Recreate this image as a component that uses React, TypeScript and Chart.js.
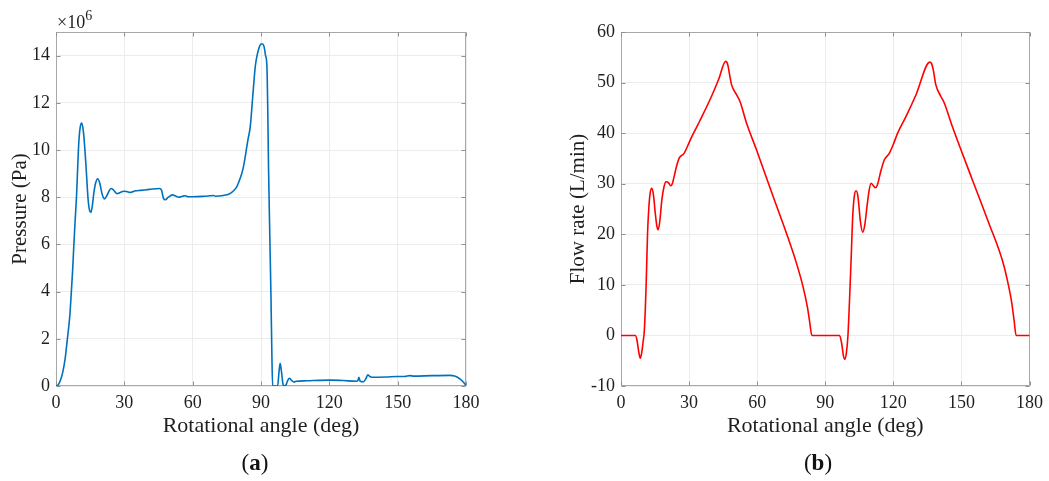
import React, { useEffect, useRef } from "react";
import { Chart, registerables } from "chart.js";

Chart.register(...registerables);

// ---- Data (a): pressure vs rotational angle (pressure in units of 10^6 Pa) ----
const angleA: number[] = [
  0, 1, 2, 3, 4, 5, 6, 6.7, 7.3, 7.8, 8.4, 9.0, 9.5, 10.0, 10.6, 11.3, 12.0, 12.9, 13.5, 14.1,
  14.7, 15.3, 15.9, 16.6, 17.4, 18.3, 19.2, 20.2, 21.3, 22.5, 23.5, 24.2, 25.3, 26.8, 28.2, 29.7,
  31, 32.6, 35, 37.1, 41, 45.5, 46.3, 47.2, 48.0, 49.3, 51.1, 52.5, 53.9, 55.5, 56.8, 58, 60, 65,
  69.2, 70, 75.1, 76.5, 77.7, 79.4, 80.9, 82.1, 83.1, 84.2, 85.3, 86.4, 87.5, 88.5, 89.5, 90.4,
  91.3, 92.0, 92.6, 93.0, 93.3, 93.9, 94.4, 94.8, 95.1, 97.3, 97.9, 98.4, 99.0, 99.6, 99.9, 101.0,
  101.8, 102.5, 103.3, 104.3, 105.5, 110, 120.4, 126, 132, 132.6, 133, 133.5, 135, 136, 136.9,
  137.8, 138.7, 145, 149.6, 153, 155.4, 157, 165, 173, 175, 176.6, 178.5, 180,
];
const pressureA: number[] = [
  0, 0.05, 0.25, 0.6, 1.15, 2.0, 2.9, 3.93, 4.9, 5.9, 7.0, 8.03, 9.2, 10.3, 10.95, 11.14, 10.8,
  9.73, 8.8, 7.9, 7.45, 7.35, 7.6, 8.17, 8.6, 8.78, 8.6, 8.15, 7.93, 8.1, 8.3, 8.37, 8.3, 8.15,
  8.2, 8.25, 8.24, 8.2, 8.27, 8.29, 8.33, 8.37, 8.3, 7.95, 7.89, 8.0, 8.1, 8.05, 8.0, 8.04, 8.06,
  8.02, 8.02, 8.04, 8.07, 8.04, 8.1, 8.16, 8.25, 8.45, 8.81, 9.2, 9.73, 10.4, 11.0, 12.3, 13.55,
  14.1, 14.42, 14.5, 14.4, 14.0, 13.55, 11.5, 9.3, 6.2, 3.65, 1.2, 0, 0, 0.6, 0.96, 0.6, 0.1, 0,
  0.05, 0.25, 0.33, 0.25, 0.17, 0.2, 0.22, 0.25, 0.23, 0.2, 0.25, 0.37, 0.2, 0.18, 0.3, 0.47, 0.4,
  0.37, 0.38, 0.4, 0.4, 0.44, 0.42, 0.44, 0.45, 0.42, 0.35, 0.2, 0.02,
];

// ---- Data (b): flow rate vs rotational angle (L/min) ----
const angleB: number[] = [
  0, 6.3, 7.0, 7.8, 8.5, 9.2, 9.8, 10.2, 10.7, 11.1, 11.7, 12.3, 12.9, 13.6, 14.3, 15.1, 15.8,
  16.4, 17.1, 18.0, 19.0, 19.9, 20.9, 21.9, 22.6, 23.4, 24.5, 25.7, 27.8, 29.5, 31.2, 34.8, 39.9,
  43, 46.1, 46.8, 47.2, 48, 48.7, 50.9, 52.4, 55.3, 59.7, 67.0, 72.9, 77.3, 80.2, 82.1, 83.1, 84.1,
  96.3, 97.2, 98.0, 98.6, 99.3, 100.0, 100.7, 101.4, 102.1, 102.8, 103.6, 104.4, 105.5, 106.5,
  107.4, 108.4, 109.3, 110.2, 111.2, 112.1, 113.0, 114.5, 116.0, 118.2, 120, 121.9, 125.6, 130,
  136.1, 136.8, 137.6, 138.7, 140.9, 142.4, 146.0, 154.8, 162.1, 168.0, 170.2, 172.1, 173.2, 174.1,
  180,
];
const flowB: number[] = [
  0, 0, -0.8, -3.2, -4.5, -3.2, -1.0, 0.43, 5, 10.3, 20.2, 25.5, 28.3, 29.1, 27.8, 24.2, 21.6,
  20.9, 22.6, 26.8, 29.5, 30.4, 30.2, 29.6, 30.0, 31.4, 33.5, 35.1, 36.0, 37.6, 39.3, 42.5, 47.3,
  50.6, 54.2, 53.9, 53.2, 51.2, 49.6, 47.6, 46.3, 42.0, 36.7, 27.5, 20.2, 14.3, 9.65, 5.7, 2.8, 0,
  0, -1.5, -4, -4.72, -3.5, 0, 7.0, 15, 23.5, 27.5, 28.6, 27.5, 22.5, 20.4, 21.8, 25.5, 28.6,
  30.1, 29.6, 29.2, 29.8, 32.5, 34.7, 36.0, 37.8, 40.0, 43.3, 47.6, 54.05, 53.8, 52.5, 49.6, 47.3,
  46.0, 41.3, 30.8, 22.2, 14.9, 11.0, 6.7, 3, 0, 0,
];

const xTicks: number[] = [0, 30, 60, 90, 120, 150, 180];
const yTicksA: number[] = [0, 2, 4, 6, 8, 10, 12, 14];
const yTicksB: number[] = [-10, 0, 10, 20, 30, 40, 50, 60];

const TEXT = "#1f1f1f";
const SERIF = "'Liberation Serif', 'Times New Roman', serif";

const boxPlugin = {
  id: "matlabBox",
  beforeDatasetsDraw(chart: any) {
    const { ctx, chartArea: a, scales } = chart;
    ctx.save();
    ctx.strokeStyle = "#a8a8a8";
    ctx.lineWidth = 1;
    const L = Math.round(a.left) + 0.5;
    const R = Math.round(a.right) - 0.5;
    const T = Math.round(a.top) + 0.5;
    const B = Math.round(a.bottom) - 0.5;
    ctx.strokeRect(L, T, R - L, B - T);
    const tl = 4;
    ctx.strokeStyle = "#909090";
    ctx.beginPath();
    scales.x.ticks.forEach((t: any) => {
      const px = Math.round(scales.x.getPixelForValue(t.value)) + 0.5;
      ctx.moveTo(px, B);
      ctx.lineTo(px, B - tl);
      ctx.moveTo(px, T);
      ctx.lineTo(px, T + tl);
    });
    scales.y.ticks.forEach((t: any) => {
      const py = Math.round(scales.y.getPixelForValue(t.value)) + 0.5;
      ctx.moveTo(L, py);
      ctx.lineTo(L + tl, py);
      ctx.moveTo(R, py);
      ctx.lineTo(R - tl, py);
    });
    ctx.stroke();
    ctx.restore();
  },
};

function makeConfig(
  xs: number[],
  ys: number[],
  color: string,
  yMin: number,
  yMax: number,
  yTicks: number[],
  yTitle: string,
  yAxisWidth: number,
  yTitlePad: number,
  padRight: number
): any {
  const data = xs.map((x, i) => ({ x, y: ys[i] }));
  return {
    type: "line",
    data: {
      datasets: [
        {
          data,
          borderColor: color,
          borderWidth: 1.6,
          pointRadius: 0,
          fill: false,
          cubicInterpolationMode: "monotone",
        },
      ],
    },
    options: {
      responsive: false,
      maintainAspectRatio: false,
      animation: false,
      layout: { padding: { top: 32, right: padRight, bottom: 35, left: 0 } },
      plugins: { legend: { display: false }, tooltip: { enabled: false } },
      scales: {
        x: {
          type: "linear",
          min: 0,
          max: 180,
          afterBuildTicks: (s: any) => {
            s.ticks = xTicks.map((v) => ({ value: v }));
          },
          afterFit: (s: any) => {
            s.height = 60;
          },
          grid: { color: "#ececec", drawTicks: false },
          border: { display: false },
          ticks: {
            color: TEXT,
            padding: 6,
            maxRotation: 0,
            font: { family: SERIF, size: 18 },
          },
          title: {
            display: true,
            text: "Rotational angle (deg)",
            color: TEXT,
            font: { family: SERIF, size: 22 },
            padding: { top: 0, bottom: 7 },
          },
        },
        y: {
          type: "linear",
          min: yMin,
          max: yMax,
          afterBuildTicks: (s: any) => {
            s.ticks = yTicks.map((v) => ({ value: v }));
          },
          afterFit: (s: any) => {
            s.width = yAxisWidth;
          },
          grid: { color: "#ececec", drawTicks: false },
          border: { display: false },
          ticks: {
            color: TEXT,
            padding: 6,
            font: { family: SERIF, size: 18 },
          },
          title: {
            display: true,
            text: yTitle,
            color: TEXT,
            font: { family: SERIF, size: 21 },
            padding: { top: yTitlePad, bottom: 0 },
          },
        },
      },
    },
    plugins: [boxPlugin],
  };
}

export default function App() {
  const refA = useRef<HTMLCanvasElement>(null);
  const refB = useRef<HTMLCanvasElement>(null);

  useEffect(() => {
    const cA = new Chart(
      refA.current as HTMLCanvasElement,
      makeConfig(angleA, pressureA, "#0072BD", 0, 15, yTicksA, "Pressure (Pa)", 56, 8, 54)
    );
    const cB = new Chart(
      refB.current as HTMLCanvasElement,
      makeConfig(angleB, flowB, "#FF0000", -10, 60, yTicksB, "Flow rate (L/min)", 96, 41, 18)
    );
    return () => {
      cA.destroy();
      cB.destroy();
    };
  }, []);

  return (
    <div
      style={{
        position: "absolute",
        left: 0,
        top: 0,
        width: 1049,
        height: 481,
        background: "#fff",
        fontFamily: SERIF,
        color: TEXT,
      }}
    >
      <canvas
        ref={refA}
        width={520}
        height={481}
        style={{ position: "absolute", left: 0, top: 0, width: 520, height: 481 }}
      />
      <canvas
        ref={refB}
        width={524}
        height={481}
        style={{ position: "absolute", left: 525, top: 0, width: 524, height: 481 }}
      />
      <div
        style={{
          position: "absolute",
          left: 57,
          top: 13,
          fontSize: 18,
          lineHeight: "18px",
          whiteSpace: "nowrap",
        }}
      >
        ×10
        <span style={{ fontSize: 14, position: "relative", top: -8 }}>6</span>
      </div>
      <div
        style={{
          position: "absolute",
          left: 205,
          top: 450,
          width: 100,
          textAlign: "center",
          fontSize: 23,
          lineHeight: "26px",
          color: "#111",
        }}
      >
        (<b>a</b>)
      </div>
      <div
        style={{
          position: "absolute",
          left: 768,
          top: 450,
          width: 100,
          textAlign: "center",
          fontSize: 23,
          lineHeight: "26px",
          color: "#111",
        }}
      >
        (<b>b</b>)
      </div>
    </div>
  );
}
